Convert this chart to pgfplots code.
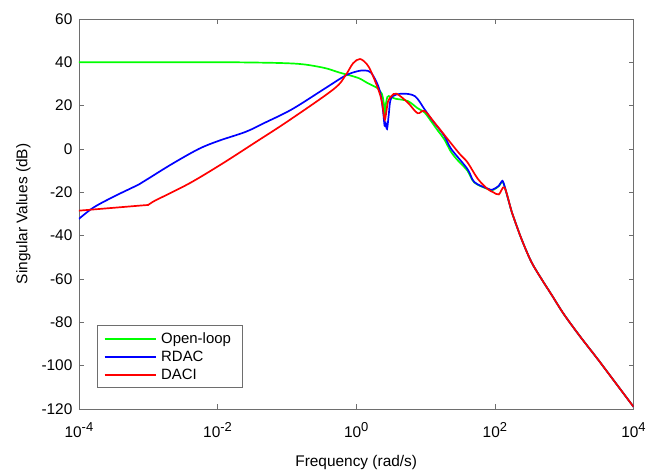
\documentclass[border=0pt]{standalone}
\usepackage{fontspec}
\setmainfont{Liberation Sans}
\usepackage{pgfplots}
\pgfplotsset{compat=1.18}

\definecolor{axgray}{RGB}{110,110,110}
\definecolor{olgreen}{RGB}{0,255,0}
\definecolor{rdblue}{RGB}{0,0,255}
\definecolor{dcred}{RGB}{255,0,0}
\newcommand{\dec}[1]{10\raisebox{0.8ex}{\fontsize{13}{13}\selectfont #1}}

\begin{document}
\begin{tikzpicture}[font=\fontsize{15.5}{18}\selectfont]
\begin{axis}[
    scale only axis,
    width=557.4pt, height=392pt,
    xmode=log,
    xmin=1e-4, xmax=1e4,
    ymin=-120, ymax=60,
    xtick={1e-4,1e-2,1,1e2,1e4},
    xticklabels={\dec{-4},\dec{-2},\dec{0},\dec{2},\dec{4}},
    minor xtick={},
    ytick={-120,-100,...,60},
    /pgf/number format/assume math mode=true,
    axis line style={axgray},
    tick style={axgray, line width=0.5pt},
    major tick length=5pt,
    yticklabel style={xshift=-3pt},
    xticklabel style={yshift=-10pt},
    xlabel={Frequency (rad/s)},
    ylabel={Singular Values (dB)},
    xlabel style={at={(axis description cs:0.5,-0.138)}, anchor=center},
    ylabel style={at={(axis description cs:-0.100,0.5)}, anchor=center},
    legend cell align=left,
    legend style={at={(axis description cs:0.032,0.054)}, anchor=south west,
        draw=axgray, inner xsep=7pt, inner ysep=4pt,
        font=\fontsize{15}{17}\selectfont,
        nodes={inner ysep=3pt, inner xsep=4pt}},
    legend image code/.code={\draw[line width=1.7pt,#1] (0pt,0pt) -- (52pt,0pt);},
]

% Open-loop
\addplot[olgreen, line width=1.7pt, smooth, tension=0.55] coordinates {
(1e-4,40) (8.55e-3,40) (2.74e-2,39.9) (8.77e-2,39.6) (0.1764,39) (0.355,37.3)
(0.565,35.3) (1.06,32.8) (1.434,30.5) (2.081,27.8) (2.339,25.5) (2.507,21)
(2.597,15.3) (2.689,21) (2.818,24) (2.951,24.4) (3.639,23.2) (5.534,22.1)
(7.666,18.8) (9.676,16.8) (12.21,12.5) (15.07,8.4) (18.58,4.5) (23.44,-1.5)
(29.58,-5.5) (40.09,-10) (50.58,-15.5) (78.70,-18.5) (92.47,-19) (114.2,-17.2)
(125.3,-15.3) (134.4,-16.2) (169.6,-27.5) (181.9,-30.6) (240.4,-41.3)
(333.2,-51.9) (461.7,-59.6) (654.6,-67.2) (995.4,-76.4) (1740,-87)
(3043,-97) (5197,-106.9) (10000,-119)
};
\addlegendentry{Open-loop}

% RDAC
\addplot[rdblue, line width=1.7pt, smooth, tension=0.55] coordinates {
(1e-4,-32.3) (1.633e-4,-27) (3.283e-4,-21.8) (7.42e-4,-16.3) (1.028e-3,-13.5)
(2.215e-3,-6.9) (5.365e-3,0) (1.054e-2,3.8) (2.553e-2,7.9) (4.90e-2,12.2)
(0.1187,18.3) (0.3385,27.5) (0.6969,33.8) (1.06,35.9) (1.337,36.2) (1.649,35.1)
(2.081,29) (2.285,24) (2.449,17) (2.567,10.7) (2.658,12) (2.785,9.2)
(2.951,16) (3.093,22) (3.394,24.4) (4.487,25.5) (6.984,24.4) (9.676,18.3)
(12.21,13.7) (18.58,6.1) (23.44,0) (40.09,-9.2) (50.58,-15.3) (78.70,-18.3)
(92.47,-18.8) (114.2,-17) (125.3,-15) (134.4,-16) (169.6,-27.5)
(181.9,-30.6) (240.4,-41.3) (333.2,-51.9) (461.7,-59.6) (654.6,-67.2)
(995.4,-76.4) (1740,-87) (3043,-97) (5197,-106.9) (10000,-119)
};
\addlegendentry{RDAC}

% DACI
\addplot[dcred, line width=1.7pt, smooth, tension=0.55] coordinates {
(1e-4,-28.5) (8.0e-4,-26.1) (1.002e-3,-25.8) (1.25e-3,-23.9) (3.873e-3,-16)
(1.157e-2,-6.9) (3.538e-2,3.1) (0.1057,13) (0.469,27.5) (0.6969,33.8)
(0.9,39.5) (1.136,41.5) (1.434,39) (1.649,35.5) (2.081,27.5) (2.339,22)
(2.507,15.5) (2.597,13.5) (2.689,16) (2.884,22) (3.239,24.4) (3.813,25.5)
(5.534,21.4) (7.666,16.5) (9.676,17.5) (14.05,11.4) (29.58,-1.5) (40.09,-6.1)
(56.75,-13.8) (78.70,-18.5) (94.78,-20) (114.2,-21) (137.5,-17.8)
(169.6,-27.5) (181.9,-30.6) (240.4,-41.3) (333.2,-51.9) (461.7,-59.6)
(654.6,-67.2) (995.4,-76.4) (1740,-87) (3043,-97) (5197,-106.9) (10000,-119)
};
\addlegendentry{DACI}

\end{axis}
\path (current axis.south west) ++(-79.3pt,-60pt) coordinate (bl);
\path (current axis.north east) ++(12.3pt,19pt) coordinate (tr);
\path (bl) rectangle (tr);
\end{tikzpicture}
\end{document}
